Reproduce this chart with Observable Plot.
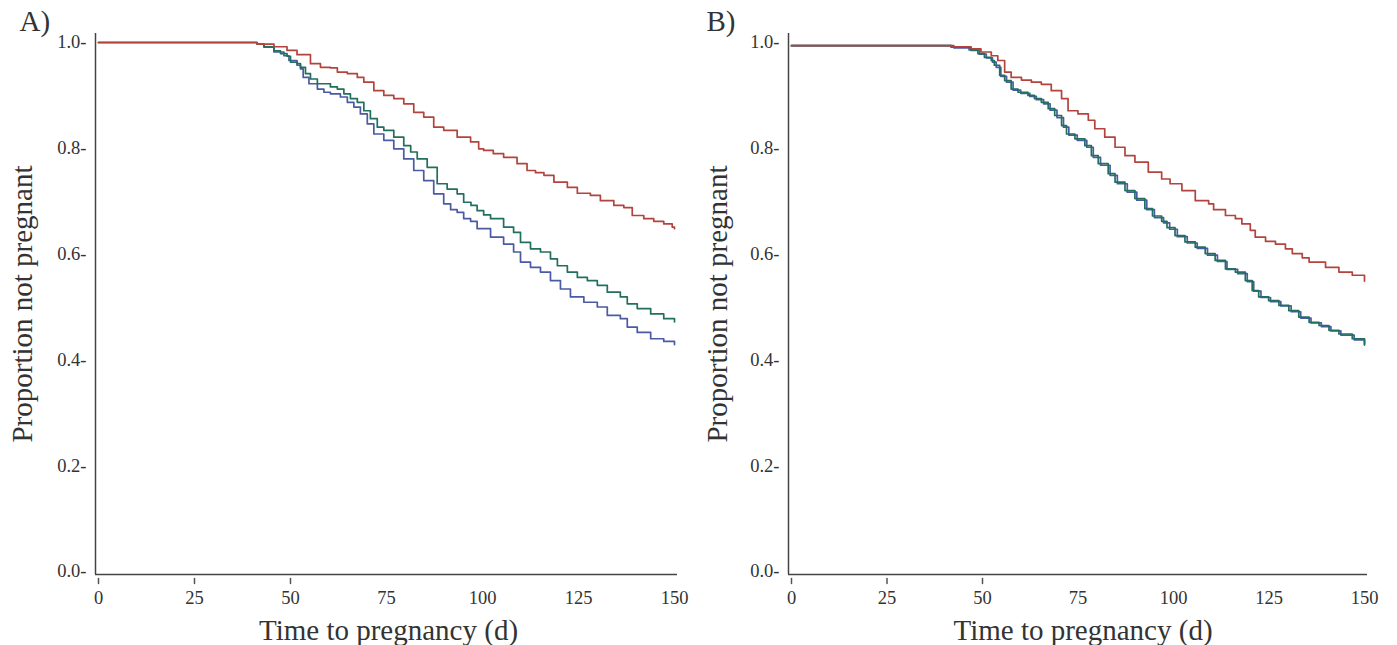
<!DOCTYPE html>
<html><head><meta charset="utf-8">
<script src="https://cdn.jsdelivr.net/npm/d3@7"></script>
<script src="https://cdn.jsdelivr.net/npm/@observablehq/plot@0.6"></script>
<style>
body{margin:0;background:#fff;}
#wrap{position:relative;width:1397px;height:645px;overflow:hidden;background:#fff;}
#wrap svg{position:absolute;top:0;}
</style></head><body><div id="wrap"></div>
<script>
// ---- tick labels & titles ----
const xTicks = [0, 25, 50, 75, 100, 125, 150];
const xTickLabels = ["0", "25", "50", "75", "100", "125", "150"];
const xTickMarks = [0, 25, 50];
const yTicks = [0, 0.2, 0.4, 0.6, 0.8, 1.0];
const yTickLabels = ["0.0-", "0.2-", "0.4-", "0.6-", "0.8-", "1.0-"];
const panelLabels = ["A)", "B)"];
const xTitle = "Time to pregnancy (d)";
const yTitle = "Proportion not pregnant";
const seriesNames = ["red", "green", "blue"];
const seriesColors = ["#b2433d", "#21705e", "#4a5ba3"];

// ---- Panel A: [day, proportion not pregnant] ----
const aRed = [[0,1.0],[40,1.0],[41.3,0.997],[45.7,0.992],[49.1,0.985],[51.7,0.977],[55.2,0.960],[57.8,0.953],[60.4,0.952],[62.2,0.944],[64.8,0.941],[67.4,0.934],[69.1,0.925],[71.7,0.909],[74.3,0.900],[76.9,0.894],[79.5,0.884],[82.1,0.868],[84.7,0.859],[87.3,0.840],[89.9,0.834],[93.4,0.821],[96.9,0.812],[99.0,0.799],[100.3,0.796],[102.8,0.790],[105.5,0.783],[109.0,0.771],[111.6,0.758],[113.8,0.754],[116.0,0.749],[118.6,0.736],[122.1,0.726],[124.7,0.715],[128.1,0.711],[130.7,0.701],[134.2,0.692],[136.8,0.688],[139.0,0.673],[142.0,0.667],[144.6,0.662],[147.2,0.657],[149.4,0.651],[150,0.648]];
const aGreen = [[0,1.0],[40,1.0],[41.3,0.997],[43.1,0.992],[45.7,0.984],[47.4,0.979],[49.1,0.974],[50.0,0.963],[51.7,0.960],[52.6,0.953],[53.9,0.941],[55.2,0.931],[57.0,0.922],[60.4,0.916],[62.2,0.912],[63.9,0.903],[65.6,0.894],[67.4,0.887],[69.1,0.871],[70.8,0.856],[72.6,0.840],[74.3,0.834],[76.9,0.821],[79.5,0.805],[81.3,0.793],[83.0,0.780],[85.6,0.764],[88.2,0.733],[90.8,0.723],[93.4,0.714],[95.1,0.698],[97.0,0.692],[98.6,0.682],[100.3,0.674],[102.1,0.667],[105.5,0.651],[108.1,0.641],[109.9,0.622],[112.5,0.610],[115.1,0.604],[117.7,0.591],[119.5,0.578],[122.1,0.566],[124.7,0.556],[127.3,0.550],[129.9,0.541],[132.5,0.528],[135.9,0.519],[137.7,0.506],[140.3,0.497],[143.8,0.487],[147.2,0.478],[150,0.472]];
const aBlue = [[0,1.0],[40,1.0],[41.3,0.997],[43.1,0.991],[45.7,0.982],[48.3,0.975],[49.6,0.966],[51.7,0.957],[52.6,0.950],[53.3,0.934],[54.8,0.922],[57.0,0.912],[58.7,0.906],[60.4,0.903],[63.0,0.897],[64.8,0.887],[66.5,0.878],[68.2,0.865],[70.0,0.846],[71.7,0.827],[74.3,0.815],[76.9,0.799],[79.5,0.780],[82.1,0.758],[84.7,0.739],[87.3,0.714],[89.9,0.695],[91.7,0.684],[93.4,0.679],[95.1,0.667],[96.9,0.662],[98.6,0.648],[102.1,0.632],[105.5,0.619],[108.1,0.604],[109.9,0.585],[112.5,0.575],[115.1,0.566],[117.7,0.550],[120.3,0.534],[122.9,0.519],[126.4,0.509],[129.9,0.500],[132.5,0.484],[135.9,0.478],[137.7,0.462],[140.3,0.452],[143.8,0.440],[147.2,0.435],[150,0.429]];

// ---- Panel B ----
const bRed = [[0,0.994],[40,0.994],[41.8,0.992],[47.0,0.988],[49.6,0.982],[52.3,0.975],[54.0,0.966],[55.8,0.944],[57.5,0.934],[60.2,0.929],[62.8,0.925],[65.4,0.921],[68.0,0.909],[70.7,0.894],[72.4,0.871],[75.0,0.865],[77.7,0.853],[79.4,0.837],[82.0,0.821],[84.7,0.802],[87.3,0.786],[89.9,0.774],[93.4,0.755],[96.9,0.742],[99.1,0.733],[102.2,0.720],[105.7,0.701],[109.2,0.695],[110.5,0.684],[113.6,0.673],[116.2,0.667],[117.9,0.657],[120.1,0.645],[121.4,0.632],[124.1,0.624],[126.7,0.619],[129.3,0.610],[131.1,0.601],[133.7,0.593],[135.5,0.585],[139.8,0.575],[143.3,0.566],[146.8,0.560],[150,0.549]];
const bGreen = [[0,0.994],[40,0.994],[41.8,0.991],[47.0,0.985],[48.8,0.979],[50.5,0.972],[52.3,0.966],[53.1,0.957],[54.5,0.938],[55.8,0.928],[57.5,0.912],[59.3,0.906],[61.9,0.900],[63.6,0.894],[65.4,0.887],[67.2,0.875],[68.9,0.862],[70.7,0.843],[72.0,0.827],[74.2,0.818],[76.8,0.805],[78.5,0.786],[80.3,0.771],[82.9,0.752],[84.7,0.736],[87.3,0.720],[89.9,0.705],[92.5,0.686],[94.5,0.672],[96.9,0.662],[98.3,0.650],[100.4,0.635],[103.0,0.623],[105.7,0.613],[108.3,0.601],[110.9,0.588],[113.6,0.572],[116.2,0.566],[118.8,0.550],[120.6,0.531],[122.3,0.519],[124.9,0.512],[127.6,0.503],[130.2,0.493],[132.8,0.481],[135.5,0.471],[138.1,0.465],[140.7,0.456],[143.3,0.449],[146.8,0.440],[150,0.430]];
const bBlue = [[0,0.994],[40,0.994],[42.5,0.990],[46.5,0.986],[49.2,0.978],[51.0,0.971],[52.6,0.963],[53.6,0.953],[54.8,0.936],[56.3,0.925],[58.0,0.910],[60.0,0.904],[62.4,0.898],[64.1,0.892],[66.0,0.884],[67.7,0.872],[69.5,0.858],[71.2,0.840],[72.6,0.825],[74.8,0.815],[77.3,0.802],[79.0,0.783],[80.9,0.768],[83.4,0.749],[85.3,0.733],[87.9,0.717],[90.4,0.702],[93.0,0.684],[95.0,0.669],[97.4,0.659],[99.0,0.647],[101.0,0.633],[103.6,0.621],[106.2,0.611],[108.9,0.598],[111.5,0.586],[114.0,0.571],[116.8,0.563],[119.3,0.548],[121.0,0.530],[122.9,0.518],[125.4,0.510],[128.1,0.502],[130.8,0.491],[133.3,0.479],[136.0,0.470],[138.7,0.463],[141.2,0.455],[143.8,0.447],[147.3,0.438],[150,0.428]];

const toRows = (arr) => arr.map(([t, p]) => ({t, p}));
const tickShape = {draw(context, l) { context.moveTo(0, 0); context.lineTo(0, -l); }};

function panel({label, red, green, blue, width, marginLeft, marginRight, labelDx, yTitleDx, xTitleDx}) {
  const series = [[blue, seriesColors[2]], [green, seriesColors[1]], [red, seriesColors[0]]];
  return Plot.plot({
    width, height: 645,
    marginLeft, marginRight, marginTop: 42, marginBottom: 74,
    style: {fontFamily: "'Liberation Serif', 'Times New Roman', serif", color: "#333", background: "transparent", overflow: "visible"},
    x: {domain: [0, 150]},
    y: {domain: [0, 1]},
    marks: [
      Plot.axisY(yTicks, {tickSize: 0, tickPadding: 12, fontSize: 18.5, label: null,
        tickFormat: d => yTickLabels[yTicks.indexOf(d)]}),
      Plot.axisX(xTicks, {tickSize: 0, tickPadding: 19, fontSize: 18.5, label: null,
        tickFormat: d => xTickLabels[xTicks.indexOf(d)]}),
      Plot.vector(xTickMarks, {x: d => d, y: 0, length: 5, rotate: 180, anchor: "start", dy: 7,
        shape: tickShape, stroke: "#555", strokeWidth: 1.5}),
      Plot.ruleY([0], {dy: 3, insetLeft: -3, insetRight: -3, stroke: "#444", strokeWidth: 1.5}),
      Plot.ruleX([0], {dx: -3, insetTop: -9, insetBottom: -3, stroke: "#444", strokeWidth: 1.5}),
      ...series.map(([vals, col]) => Plot.line(toRows(vals), {x: "t", y: "p", curve: "step-after", stroke: col, strokeWidth: 1.7})),
      Plot.text([yTitle], {text: d => d, frameAnchor: "left", textAnchor: "middle", lineAnchor: "middle", rotate: -90, dx: yTitleDx, dy: -3, fontSize: 29, fill: "#333"}),
      Plot.text([xTitle], {text: d => d, frameAnchor: "bottom", textAnchor: "middle", lineAnchor: "middle", dx: xTitleDx, dy: 59, fontSize: 29, fill: "#333"}),
      Plot.text([label], {text: d => d, frameAnchor: "top-left", textAnchor: "start", lineAnchor: "middle", dx: labelDx, dy: -21, fontSize: 29, fill: "#333"})
    ]
  });
}

const wrap = document.getElementById("wrap");
const svgA = panel({label: panelLabels[0], red: aRed, green: aGreen, blue: aBlue,
  width: 698, marginLeft: 98, marginRight: 24, labelDx: -79, yTitleDx: -76, xTitleDx: 2});
svgA.style.left = "0px";
wrap.appendChild(svgA);
const svgB = panel({label: panelLabels[1], red: bRed, green: bGreen, blue: bBlue,
  width: 699, marginLeft: 93, marginRight: 33, labelDx: -85, yTitleDx: -74, xTitleDx: 5});
svgB.style.left = "698px";
wrap.appendChild(svgB);
</script></body></html>
